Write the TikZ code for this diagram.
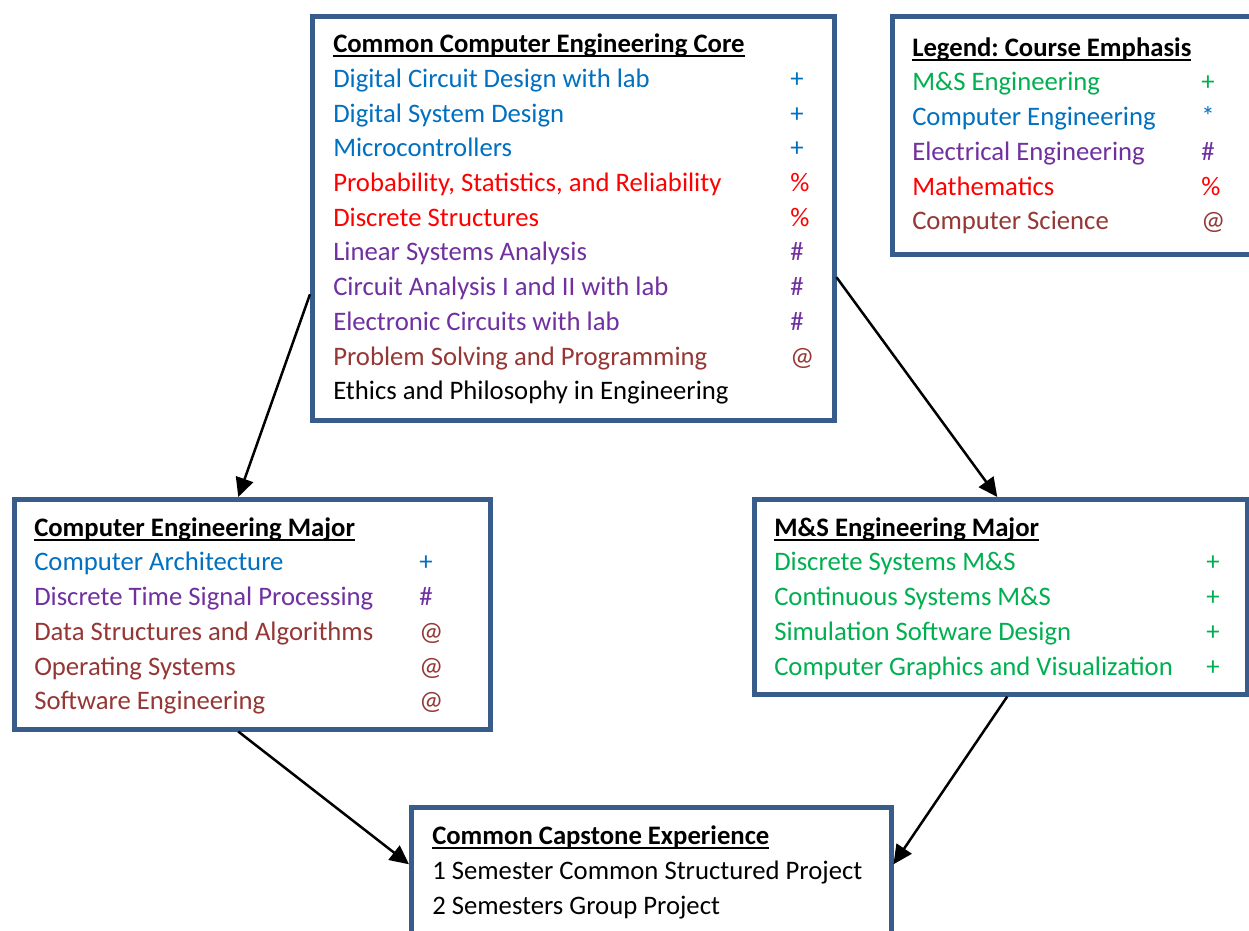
\documentclass[tikz,border=0pt]{standalone}
\usepackage{fontspec}
\setmainfont{Carlito}
\usetikzlibrary{arrows.meta}
\frenchspacing

\definecolor{boxline}{HTML}{385D8A}
\definecolor{cpeblue}{HTML}{0070C0}
\definecolor{mathred}{HTML}{FF0000}
\definecolor{eepurple}{HTML}{7030A0}
\definecolor{csbrown}{HTML}{953735}
\definecolor{msgreen}{HTML}{00B050}

% underlined bold heading of a box
\newcommand{\boxtitle}[1]{\leavevmode\setbox0\hbox{\bfseries #1}\rlap{\rule[-4.5pt]{\wd0}{2pt}}\box0}
% one course line: colour, name, emphasis mark
\newcommand{\courserow}[3]{\textcolor{#1}{#2} & \textcolor{#1}{#3}\\}

\tikzset{
  coursebox/.style={draw=boxline, line width=4.5pt, fill=white, anchor=north west,
    inner ysep=0pt, font=\fontsize{26.7}{34.7}\selectfont},
  flow/.style={line width=2.5pt, -{Triangle[length=19pt,width=18pt]}}
}

\begin{document}
\begin{tikzpicture}[x=1pt,y=-1pt]
		\useasboundingbox (0,0) rectangle (1249,930);

		% BLOCKS
		\node (core) [coursebox, inner xsep=21pt, text height=36.5pt, text depth=367.5pt] at (310,14) {%
			\begin{tabular}[t]{@{}p{457pt}@{}p{23pt}@{}}
			\boxtitle{Common Computer Engineering Core} & \\
			\courserow{cpeblue}{Digital Circuit Design with lab}{+}
			\courserow{cpeblue}{Digital System Design}{+}
			\courserow{cpeblue}{Microcontrollers}{+}
			\courserow{mathred}{Probability, Statistics, and Reliability}{\%}
			\courserow{mathred}{Discrete Structures}{\%}
			\courserow{eepurple}{Linear Systems Analysis}{\#}
			\courserow{eepurple}{Circuit Analysis I and II with lab}{\#}
			\courserow{eepurple}{Electronic Circuits with lab}{\#}
			\courserow{csbrown}{Problem Solving and Programming}{@}
			Ethics and Philosophy in Engineering &
			\end{tabular}};
		\node (legend) [coursebox, inner xsep=20pt, text height=40pt, text depth=198pt] at (890,14) {%
			\begin{tabular}[t]{@{}p{289pt}@{}p{40pt}@{}}
			\boxtitle{Legend: Course Emphasis} & \\
			\courserow{msgreen}{M\&S Engineering}{+}
			\courserow{cpeblue}{Computer Engineering}{*}
			\courserow{eepurple}{Electrical Engineering}{\#}
			\courserow{mathred}{Mathematics}{\%}
			\textcolor{csbrown}{Computer Science} & \textcolor{csbrown}{@}
			\end{tabular}};
		\node (cemajor) [coursebox, inner xsep=20pt, text height=37pt, text depth=193pt] at (12,497) {%
			\begin{tabular}[t]{@{}p{385pt}@{}p{51pt}@{}}
			\boxtitle{Computer Engineering Major} & \\
			\courserow{cpeblue}{Computer Architecture}{+}
			\courserow{eepurple}{Discrete Time Signal Processing}{\#}
			\courserow{csbrown}{Data Structures and Algorithms}{@}
			\courserow{csbrown}{Operating Systems}{@}
			\textcolor{csbrown}{Software Engineering} & \textcolor{csbrown}{@}
			\end{tabular}};
		\node (msmajor) [coursebox, inner xsep=20pt, text height=37pt, text depth=158pt] at (752,497) {%
			\begin{tabular}[t]{@{}p{432pt}@{}p{21pt}@{}}
			\boxtitle{M\&S Engineering Major} & \\
			\courserow{msgreen}{Discrete Systems M\&S}{+}
			\courserow{msgreen}{Continuous Systems M\&S}{+}
			\courserow{msgreen}{Simulation Software Design}{+}
			\textcolor{msgreen}{Computer Graphics and Visualization} & \textcolor{msgreen}{+}
			\end{tabular}};
		\node (capstone) [coursebox, inner xsep=21pt, text height=37.5pt, text depth=112.5pt] at (409,805) {%
			\begin{tabular}[t]{@{}p{438pt}@{}}
			\boxtitle{Common Capstone Experience} \\
			1 Semester Common Structured Project \\
			2 Semesters Group Project
			\end{tabular}};

		% ARROWS
		\draw [flow] ([yshift=-76pt]core.west) -- ([xshift=-14pt]cemajor.north);
		\draw [flow] ([yshift=-59pt]core.east) -- ([xshift=-3.5pt]msmajor.north);
		\draw [flow] ([xshift=-14pt]cemajor.south) -- ([yshift=18pt]capstone.west);
		\draw [flow] ([xshift=6.5pt]msmajor.south) -- ([yshift=18pt]capstone.east);
	\end{tikzpicture}
\end{document}
